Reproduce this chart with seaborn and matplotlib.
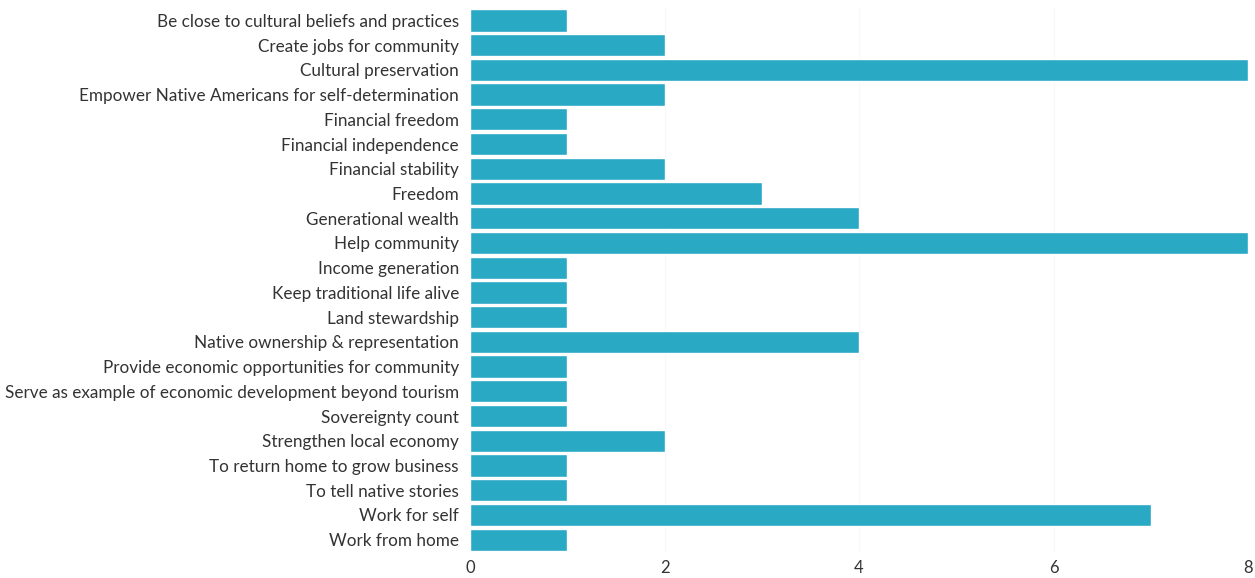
import matplotlib
matplotlib.use("Agg")
import matplotlib.pyplot as plt
import seaborn as sns
import pandas as pd

categories = [
    "Be close to cultural beliefs and practices",
    "Create jobs for community",
    "Cultural preservation",
    "Empower Native Americans for self-determination",
    "Financial freedom",
    "Financial independence",
    "Financial stability",
    "Freedom",
    "Generational wealth",
    "Help community",
    "Income generation",
    "Keep traditional life alive",
    "Land stewardship",
    "Native ownership & representation",
    "Provide economic opportunities for community",
    "Serve as example of economic development beyond tourism",
    "Sovereignty count",
    "Strengthen local economy",
    "To return home to grow business",
    "To tell native stories",
    "Work for self",
    "Work from home",
]
counts = [1, 2, 8, 2, 1, 1, 2, 3, 4, 8, 1, 1, 1, 4, 1, 1, 1, 2, 1, 1, 7, 1]
x_ticks = [0, 2, 4, 6, 8]

df = pd.DataFrame({"reason": categories, "count": counts})

sns.set_style("white")
plt.rcParams["font.family"] = ["Lato", "DejaVu Sans"]

fig = plt.figure(figsize=(12.55, 5.78), dpi=100)
ax = fig.add_axes([0.3745, 0.045, 0.62, 0.941])

sns.barplot(data=df, x="count", y="reason", color="#2aa9c5", saturation=1,
            width=0.9, ax=ax, orient="h")

ax.set_xlim(0, 8)
ax.set_ylim(len(categories) - 0.5, -0.5)
ax.set_xticks(x_ticks)
ax.set_xticklabels([str(t) for t in x_ticks], fontsize=12, color="#333333")
ax.tick_params(axis="y", labelsize=12.3, labelcolor="#333333", length=0, pad=8)
ax.tick_params(axis="x", length=0, pad=6)
ax.set_xlabel("")
ax.set_ylabel("")
ax.xaxis.grid(True, color="#f8f8f8", linewidth=0.8)
ax.set_axisbelow(True)
for s in ax.spines.values():
    s.set_visible(False)

fig.savefig("out.png", dpi=100, facecolor="white")
